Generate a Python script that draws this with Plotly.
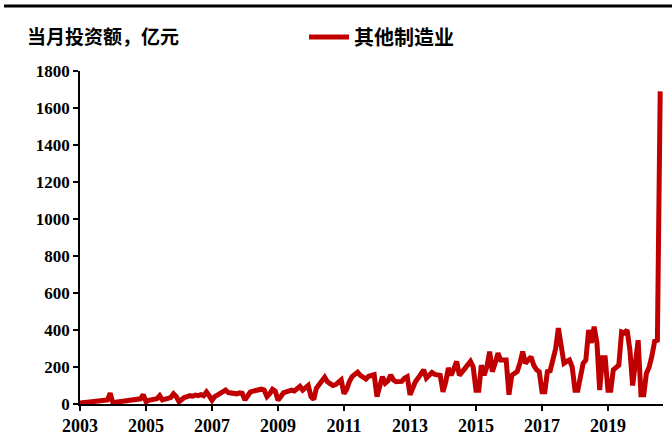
import pandas as pd
import plotly.graph_objects as go

# Monthly fixed-asset investment, other manufacturing (100 million yuan)
inv_2003 = [5, 7, 9, 11, 13, 15, 16, 17, 18, 20, 22, 58]
inv_2004 = [5, 10, 12, 14, 16, 17, 18, 20, 22, 24, 28, 50]
inv_2005 = [12, 20, 22, 25, 28, 45, 22, 26, 30, 35, 55, 40]
inv_2006 = [12, 25, 35, 40, 45, 42, 48, 45, 50, 45, 65, 45]
inv_2007 = [20, 40, 50, 58, 65, 75, 62, 58, 60, 55, 60, 58]
inv_2008 = [22, 50, 65, 70, 72, 75, 80, 75, 40, 55, 80, 70]
inv_2009 = [20, 40, 60, 65, 70, 75, 70, 80, 95, 75, 85, 100]
inv_2010 = [40, 25, 85, 110, 125, 145, 120, 110, 100, 105, 115, 130]
inv_2011 = [55, 80, 120, 148, 160, 172, 155, 145, 135, 150, 155, 158]
inv_2012 = [40, 100, 148, 113, 125, 157, 130, 120, 118, 122, 140, 148]
inv_2013 = [50, 90, 120, 140, 160, 185, 140, 155, 170, 160, 158, 155]
inv_2014 = [66, 120, 195, 155, 190, 230, 155, 175, 200, 210, 230, 200]
inv_2015 = [75, 75, 210, 155, 200, 283, 175, 220, 275, 238, 240, 238]
inv_2016 = [50, 155, 165, 175, 220, 283, 220, 240, 255, 210, 185, 175]
inv_2017 = [66, 66, 175, 180, 250, 300, 410, 310, 220, 230, 238, 200]
inv_2018 = [75, 75, 150, 220, 238, 400, 330, 418, 330, 75, 250, 250]
inv_2019 = [75, 75, 185, 200, 210, 390, 385, 400, 290, 100, 250, 345]
inv_2020 = [50, 50, 165, 200, 260, 340, 345, 1690]

values = (inv_2003 + inv_2004 + inv_2005 + inv_2006 + inv_2007 + inv_2008
          + inv_2009 + inv_2010 + inv_2011 + inv_2012 + inv_2013 + inv_2014
          + inv_2015 + inv_2016 + inv_2017 + inv_2018 + inv_2019 + inv_2020)
months = pd.date_range("2003-01-01", periods=len(values), freq="MS")

series_name = "其他制造业"
unit_title = "当月投资额，亿元"
y_ticks = [0, 200, 400, 600, 800, 1000, 1200, 1400, 1600, 1800]

W, H = 672, 444
ML, MR, MT, MB = 80, 9, 71, 40
pw = W - ML - MR
ph = H - MT - MB

cjk = "Noto Sans CJK SC"
serif = "Liberation Serif"

fig = go.Figure()
fig.add_trace(go.Scatter(
    x=months, y=values, mode="lines", name=series_name,
    line=dict(color="#C00000", width=5),
))

fig.update_layout(
    width=W, height=H,
    margin=dict(l=ML, r=MR, t=MT, b=MB),
    paper_bgcolor="white", plot_bgcolor="white",
    showlegend=True,
    legend=dict(
        x=(304 - ML) / pw, y=1 + (MT - 37) / ph,
        xanchor="left", yanchor="middle",
        orientation="h",
        font=dict(family=cjk, size=20, color="black", weight="bold"),
        bgcolor="rgba(0,0,0,0)",
        itemwidth=40,
    ),
    xaxis=dict(
        type="date",
        range=["2003-01-01", "2020-09-01"],
        tick0="2003-01-01", dtick="M24", tickformat="%Y",
        ticks="outside", ticklen=5, tickwidth=1.5, tickcolor="black",
        showline=True, linecolor="black", linewidth=1.5,
        showgrid=False, zeroline=False,
        tickfont=dict(family=serif, size=18, color="black", weight="bold"),
    ),
    yaxis=dict(
        range=[0, 1800],
        tickvals=y_ticks,
        ticks="outside", ticklen=5, tickwidth=1.5, tickcolor="black",
        showline=True, linecolor="black", linewidth=1.5,
        showgrid=False, zeroline=False,
        tickfont=dict(family=serif, size=17, color="black", weight="bold"),
    ),
)

# unit caption above the plot
fig.add_annotation(
    text=unit_title, xref="paper", yref="paper",
    x=(25 - ML) / pw, y=1 + (MT - 35) / ph,
    xanchor="left", yanchor="middle", showarrow=False,
    font=dict(family=cjk, size=19, color="black", weight="bold"),
)

# heavy rule across the top of the figure
fig.add_shape(
    type="line", xref="paper", yref="paper",
    x0=(4 - ML) / pw, x1=(W - ML) / pw,
    y0=1 + (MT - 6) / ph, y1=1 + (MT - 6) / ph,
    line=dict(color="black", width=3),
)

fig.write_html("out.html")
